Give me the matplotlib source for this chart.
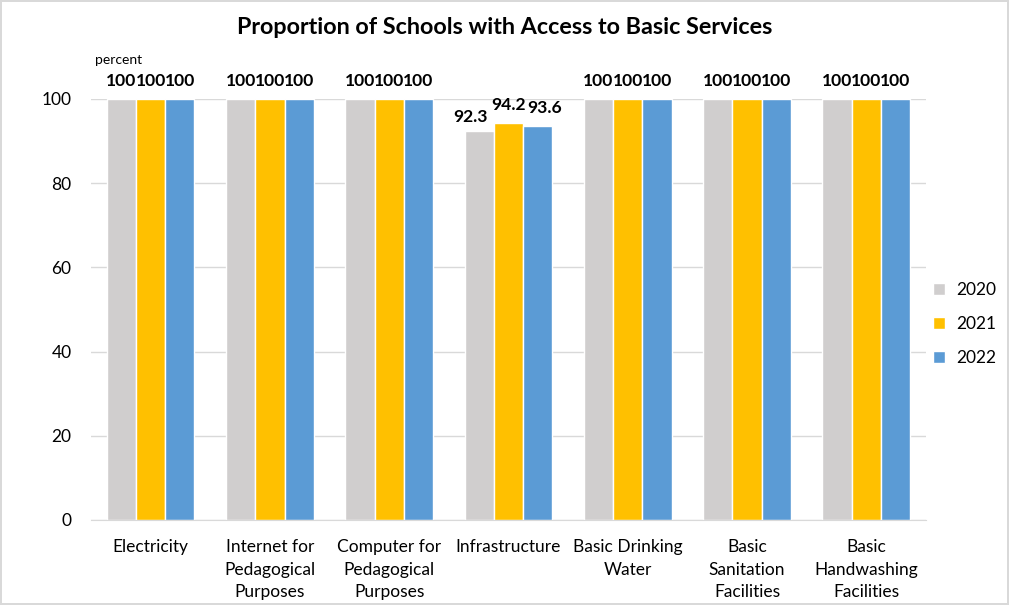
import matplotlib
matplotlib.use('Agg')
import matplotlib.pyplot as plt
import numpy as np

plt.rcParams['font.family'] = ['Lato', 'DejaVu Sans']

categories = ['Electricity', 'Internet for\nPedagogical\nPurposes', 'Computer for\nPedagogical\nPurposes',
              'Infrastructure', 'Basic Drinking\nWater', 'Basic\nSanitation\nFacilities',
              'Basic\nHandwashing\nFacilities']
years = ['2020', '2021', '2022']
values_2020 = [100, 100, 100, 92.3, 100, 100, 100]
values_2021 = [100, 100, 100, 94.2, 100, 100, 100]
values_2022 = [100, 100, 100, 93.6, 100, 100, 100]
colors = ['#D0CECE', '#FFC000', '#5B9BD5']

# label nudges (points) where Excel pushed labels apart
nudges = {(0, 3): (-6, -3), (2, 3): (5, 0)}

fig = plt.figure(figsize=(10.09, 6.05), dpi=100)
fig.patch.set_edgecolor('#D9D9D9')
fig.patch.set_linewidth(1.5)
ax = fig.add_axes([0.0902, 0.1405, 0.8275, 0.6959])

x = np.arange(len(categories))
w = 0.245
for i, (vals, yr) in enumerate(zip([values_2020, values_2021, values_2022], years)):
    bars = ax.bar(x + (i - 1) * w, vals, w, color=colors[i], edgecolor='white', linewidth=1, label=yr, zorder=2)
    for j, (b, v) in enumerate(zip(bars, vals)):
        dx, dy = nudges.get((i, j), (0, 0))
        ax.annotate(f'{v:g}', (b.get_x() + b.get_width() / 2, v + 4.3),
                    xytext=(dx, dy), textcoords='offset points', ha='center', va='center',
                    fontsize=12.6, fontweight='bold', color='black', annotation_clip=False)

ax.set_xlim(-0.5, len(categories) - 0.5)
ax.set_ylim(0, 100)
ax.set_yticks(range(0, 101, 20))
ax.yaxis.grid(True, color='#D9D9D9', linewidth=1, zorder=0)
ax.set_axisbelow(True)
for s in ['top', 'right', 'left']:
    ax.spines[s].set_visible(False)
ax.spines['bottom'].set_color('#D9D9D9')
ax.tick_params(axis='y', length=0, labelsize=12.5, pad=14)
ax.set_xticks(x)
ax.set_xticklabels(categories, fontsize=12.5, va='top', linespacing=1.5)
ax.tick_params(axis='x', length=0, pad=14)

ax.text(-0.47, 109.3, 'percent', fontsize=10, ha='left', va='center')
fig.suptitle('Proportion of Schools with Access to Basic Services', fontsize=16.8,
             fontweight='bold', y=0.972)

ax.legend(loc='center left', bbox_to_anchor=(0.99, 0.465), frameon=False, fontsize=12.5,
          handlelength=0.7, handleheight=0.7, labelspacing=1.05, handletextpad=0.6)

fig.savefig('out.png', dpi=100)
